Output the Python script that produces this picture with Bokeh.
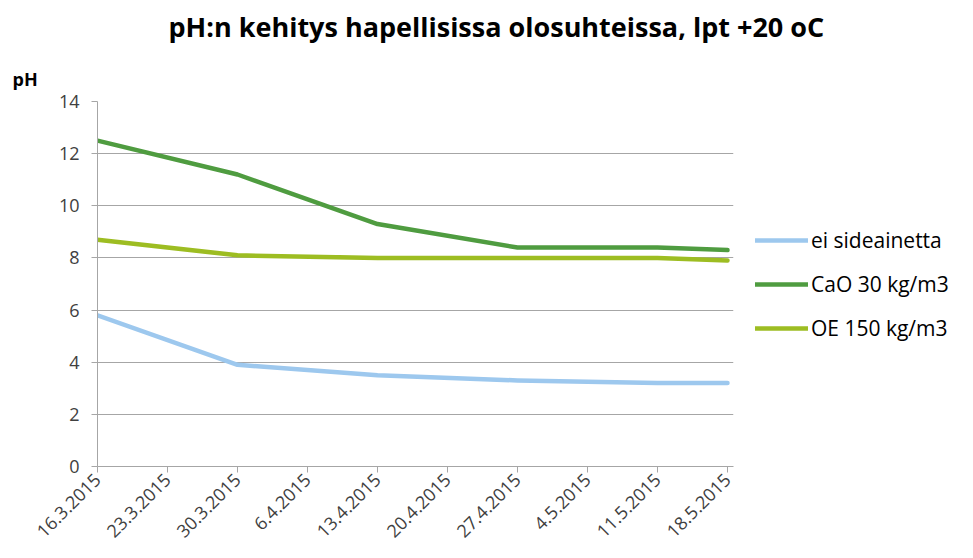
from datetime import datetime
from bokeh.plotting import figure
from bokeh.models import (ColumnDataSource, Legend, LegendItem, Title, FixedTicker,
                          DatetimeTickFormatter, Range1d)
from bokeh.embed import file_html
from bokeh.resources import INLINE

title_text = "pH:n kehitys hapellisissa olosuhteissa, lpt +20 oC"
y_label = "pH"

dates = ["16.3.2015", "30.3.2015", "13.4.2015", "27.4.2015", "11.5.2015", "18.5.2015"]
ei_sideainetta = [5.8, 3.9, 3.5, 3.3, 3.2, 3.2]
cao_30 = [12.5, 11.2, 9.3, 8.4, 8.4, 8.3]
oe_150 = [8.7, 8.1, 8.0, 8.0, 8.0, 7.9]
series_names = ["ei sideainetta", "CaO 30 kg/m3", "OE 150 kg/m3"]
series_colors = ["#9DC8EE", "#4F9C40", "#9DBD22"]

tick_labels = ["16.3.2015", "23.3.2015", "30.3.2015", "6.4.2015", "13.4.2015",
               "20.4.2015", "27.4.2015", "4.5.2015", "11.5.2015", "18.5.2015"]
y_ticks = [0, 2, 4, 6, 8, 10, 12, 14]


def to_dt(s):
    return datetime.strptime(s, "%d.%m.%Y")


def to_ms(s):
    return to_dt(s).timestamp() * 1000.0


xs = [to_dt(d) for d in dates]
source = ColumnDataSource(dict(x=xs, ei=ei_sideainetta, cao=cao_30, oe=oe_150))

FL, FR, FT, FB = 97, 733, 102, 467   # frame edges in page pixels
p = figure(frame_width=FR - FL, frame_height=FB - FT, x_axis_type="datetime",
           output_backend="svg", toolbar_location=None,
           min_border_left=FL, min_border_right=0,
           min_border_top=0, min_border_bottom=0)
p.x_range = Range1d(to_ms(tick_labels[0]), to_ms(tick_labels[-1]) + 0.6 * 86400000)
p.y_range = Range1d(0, 14)
p.outline_line_color = None
p.background_fill_color = "white"

p.xaxis.ticker = FixedTicker(ticks=[to_ms(t) for t in tick_labels])
p.xaxis.formatter = DatetimeTickFormatter(days="%-d.%-m.%Y", months="%-d.%-m.%Y",
                                          years="%-d.%-m.%Y")
p.xaxis.major_label_orientation = 0.785398
p.xaxis.major_label_text_font = "Open Sans"
p.xaxis.major_label_text_font_size = "18px"
p.xaxis.major_label_text_color = "#404040"
p.xaxis.major_tick_out = 6
p.xaxis.major_tick_in = 0
p.xaxis.minor_tick_line_color = None
p.xaxis.axis_line_color = "#A6A6A6"
p.xaxis.major_tick_line_color = "#A6A6A6"
p.xaxis.major_label_standoff = 4

p.yaxis.ticker = FixedTicker(ticks=y_ticks)
p.yaxis.major_label_text_font = "Open Sans"
p.yaxis.major_label_text_font_size = "18px"
p.yaxis.major_label_text_color = "#404040"
p.yaxis.major_tick_out = 6
p.yaxis.major_tick_in = 0
p.yaxis.minor_tick_line_color = None
p.yaxis.axis_line_color = "#A6A6A6"
p.yaxis.major_tick_line_color = "#A6A6A6"
p.yaxis.major_label_standoff = 12

p.xgrid.grid_line_color = None
p.ygrid.grid_line_color = "#A6A6A6"
p.ygrid.grid_line_width = 1

r_ei = p.line("x", "ei", source=source, line_color=series_colors[0], line_width=4.5,
              line_join="round", line_cap="round")
r_cao = p.line("x", "cao", source=source, line_color=series_colors[1], line_width=4.5,
               line_join="round", line_cap="round")
r_oe = p.line("x", "oe", source=source, line_color=series_colors[2], line_width=4.5,
              line_join="round", line_cap="round")

legend = Legend(items=[LegendItem(label=series_names[0], renderers=[r_ei]),
                       LegendItem(label=series_names[1], renderers=[r_cao]),
                       LegendItem(label=series_names[2], renderers=[r_oe])],
                location="center_left", orientation="vertical",
                glyph_width=53, glyph_height=20, label_height=20, spacing=16,
                label_standoff=3, padding=0, margin=22,
                border_line_color=None, background_fill_alpha=0,
                label_text_font="Open Sans", label_text_font_size="21px",
                label_text_color="#000000")
p.add_layout(legend, "right")

ylab = Title(text=y_label, align="left", offset=12 - FL, text_font="Open Sans",
             text_font_style="bold", text_font_size="18px", text_color="#000000",
             standoff=22)
p.add_layout(ylab, "above")

title = Title(text=title_text, align="left", offset=168 - FL, text_font="Open Sans",
              text_font_style="bold", text_font_size="27px", text_color="#000000",
              standoff=14, vertical_align="top")
p.add_layout(title, "above")

open("out.html", "w").write(file_html(p, INLINE))
